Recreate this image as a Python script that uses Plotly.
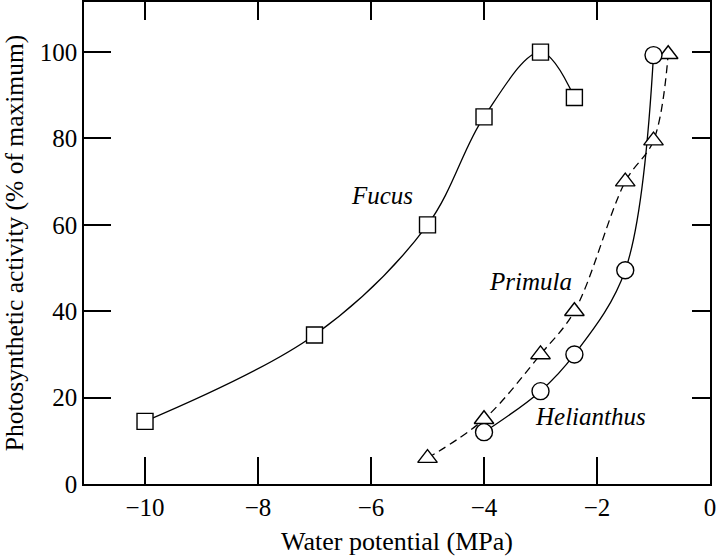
import plotly.graph_objects as go

# Data
fucus_x = [-10, -7, -5, -4, -3, -2.4]
fucus_y = [14.5, 34.5, 60, 85, 100, 89.5]

primula_x = [-5, -4, -3, -2.4, -1.5, -1.0, -0.74]
primula_y = [6, 15, 30, 40, 70, 79.5, 99.5]

helianthus_x = [-4, -3, -2.4, -1.5, -1.0]
helianthus_y = [12, 21.5, 30, 49.5, 99.3]

x_tickvals = [-10, -8, -6, -4, -2, 0]
x_ticktext = ["\u221210", "\u22128", "\u22126", "\u22124", "\u22122", "0"]
y_tickvals = [0, 20, 40, 60, 80, 100]
y_ticktext = ["0", "20", "40", "60", "80", "100"]

labels = ["Fucus", "Primula", "Helianthus"]
label_x = [-5.8, -3.18, -2.12]
label_y = [66.7, 46.8, 15.6]

x_range = [-11.08, 0]
y_range = [0, 111.6]

FONT = "Liberation Serif"

fig = go.Figure()

line_style = dict(color="black", width=1.3)

fig.add_trace(go.Scatter(x=fucus_x, y=fucus_y, mode="lines",
                         line=dict(shape="spline", **line_style), hoverinfo="skip"))
fig.add_trace(go.Scatter(x=primula_x, y=primula_y, mode="lines",
                         line=dict(shape="spline", dash="8px,5px", **line_style), hoverinfo="skip"))
fig.add_trace(go.Scatter(x=helianthus_x, y=helianthus_y, mode="lines",
                         line=dict(shape="spline", **line_style), hoverinfo="skip"))

mk_line = dict(color="black", width=1.4)
fig.add_trace(go.Scatter(x=fucus_x, y=fucus_y, mode="markers",
                         marker=dict(symbol="square", size=16, color="white", line=mk_line)))
fig.add_trace(go.Scatter(x=primula_x, y=primula_y, mode="markers",
                         marker=dict(symbol="triangle-up", size=17, color="white", line=mk_line)))
fig.add_trace(go.Scatter(x=helianthus_x, y=helianthus_y, mode="markers",
                         marker=dict(symbol="circle", size=17, color="white", line=mk_line)))

# dummy trace to activate secondary axes for top/right ticks
fig.add_trace(go.Scatter(x=[None], y=[None], xaxis="x2", yaxis="y2", showlegend=False))

for t, xx, yy in zip(labels, label_x, label_y):
    fig.add_annotation(x=xx, y=yy, text="<i>" + t + "</i>", showarrow=False,
                       font=dict(family=FONT, size=25, color="black"))

fig.update_layout(
    width=720, height=556,
    margin=dict(l=84, r=10, t=2, b=72, autoexpand=False),
    paper_bgcolor="white", plot_bgcolor="white",
    showlegend=False,
    font=dict(family=FONT, size=24, color="black"),
    xaxis=dict(range=x_range, tickvals=x_tickvals, ticktext=x_ticktext, automargin=False,
               ticks="inside", ticklen=27, tickwidth=1.5, tickcolor="black",
               showline=True, linecolor="black", linewidth=1.5, mirror=True,
               showgrid=False, zeroline=False,
               tickfont=dict(family=FONT, size=25),
               title=dict(text="Water potential (MPa)", font=dict(family=FONT, size=26))),
    yaxis=dict(range=y_range, tickvals=y_tickvals, ticktext=y_ticktext, automargin=False,
               ticks="inside", ticklen=27, tickwidth=1.5, tickcolor="black",
               showline=True, linecolor="black", linewidth=1.5, mirror=True,
               showgrid=False, zeroline=False,
               tickfont=dict(family=FONT, size=25),
               title=dict(text="Photosynthetic activity (% of maximum)",
                          font=dict(family=FONT, size=25.5))),
    xaxis2=dict(range=x_range, overlaying="x", side="top", tickvals=x_tickvals[:-1], automargin=False,
                ticks="inside", ticklen=18, tickwidth=1.5, tickcolor="black",
                showticklabels=False, showgrid=False, zeroline=False, showline=False),
    yaxis2=dict(range=y_range, overlaying="y", side="right", tickvals=y_tickvals[1:], automargin=False,
                ticks="inside", ticklen=18, tickwidth=1.5, tickcolor="black",
                showticklabels=False, showgrid=False, zeroline=False, showline=False),
)

fig.write_html("out.html", config={"displayModeBar": False},
               post_script="document.body.style.margin='0px';")
